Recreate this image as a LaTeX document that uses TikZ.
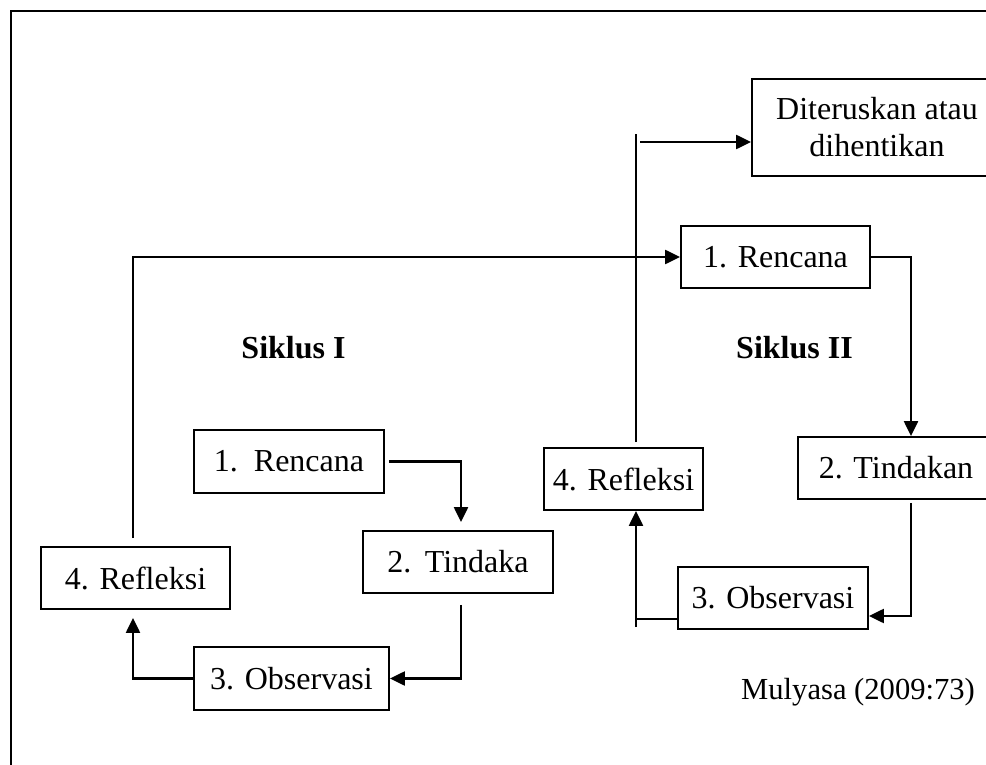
\documentclass[tikz,border=0pt]{standalone}
\usepackage{fontspec}
\setmainfont{Liberation Serif}
\usetikzlibrary{arrows.meta,calc}
\begin{document}
\begin{tikzpicture}[x=1pt,y=-1pt,
  font=\fontsize{32}{37}\selectfont,
  stagebox/.style 2 args={draw,line width=1.8pt,inner sep=0pt,minimum width=#1,minimum height=#2,align=center},
  link/.style={line width=2pt},
  conn/.style={line width=2.2pt,-{Triangle[length=15pt,width=14pt]}},
  lbl/.style={font=\fontsize{32}{37}\selectfont\bfseries,anchor=base}]
\useasboundingbox (0,0) rectangle (986,765);
\clip (0,0) rectangle (986,765);
% outer frame (right and bottom edges lie outside the picture)
\draw[line width=2pt] (11,1000) -- (11,11) -- (1100,11);
% boxes
\node[stagebox={250pt}{97pt}] (dit) at (877,127.5) {Diteruskan atau\\dihentikan};
\node[stagebox={189pt}{62pt}] (ren2) at (775.5,257) {1. Rencana};
\node[stagebox={196pt}{62pt}] (tin2) at (896,468) {2. Tindakan};
\node[stagebox={190pt}{62pt}] (obs2) at (773,598) {3. Observasi};
\node[stagebox={159pt}{62pt}] (ref2) at (623.5,479) {4. Refleksi};
\node[stagebox={190pt}{63pt}] (ren1) at (289,461.5) {1.\hspace{0.5em}Rencana};
\node[stagebox={190pt}{62pt}] (tin1) at (458,562) {2.\hspace{0.42em}Tindaka};
\node[stagebox={195pt}{63pt}] (obs1) at (291.5,678.5) {3. Observasi};
\node[stagebox={189pt}{62pt}] (ref1) at (135.5,578) {4. Refleksi};
% labels
\node[lbl] (s1) at (293.5,358) {Siklus I};
\node[lbl] (s2) at (794.5,358) {Siklus II};
\node[anchor=base west,inner sep=0pt,font=\fontsize{30.6}{37}\selectfont] (src) at (741,699) {Mulyasa (2009:73)};
% Siklus I connectors
\draw[conn] ([xshift=4pt]ren1.east) -| ([xshift=3pt,yshift=8pt]tin1.north);
\draw[conn] ([xshift=3pt,yshift=-11pt]tin1.south) |- (obs1.east);
\draw[conn] (obs1.west) -| ([xshift=-2.5pt,yshift=-8pt]ref1.south);
\draw[conn] ([xshift=-2.5pt,yshift=8pt]ref1.north) |- (ren2.west);
% Siklus II connectors
\draw[conn] (ren2.east) -| ([xshift=15pt]tin2.north);
\draw[conn] ([xshift=15pt,yshift=-3pt]tin2.south) |- ([yshift=-18pt]obs2.east);
\coordinate (b2) at (636,627);
\draw[link] ([yshift=-21pt]obs2.west) -- ([yshift=-21pt]obs2.west -| b2);
\draw[conn] (b2) -- (b2 |- ref2.south);
\coordinate (v2) at (636,134);
\draw[link] ([xshift=12.5pt,yshift=5pt]ref2.north) -- (v2);
\coordinate (h2) at (640,142);
\draw[conn] (h2) -- (h2 -| dit.west);
\end{tikzpicture}
\end{document}
